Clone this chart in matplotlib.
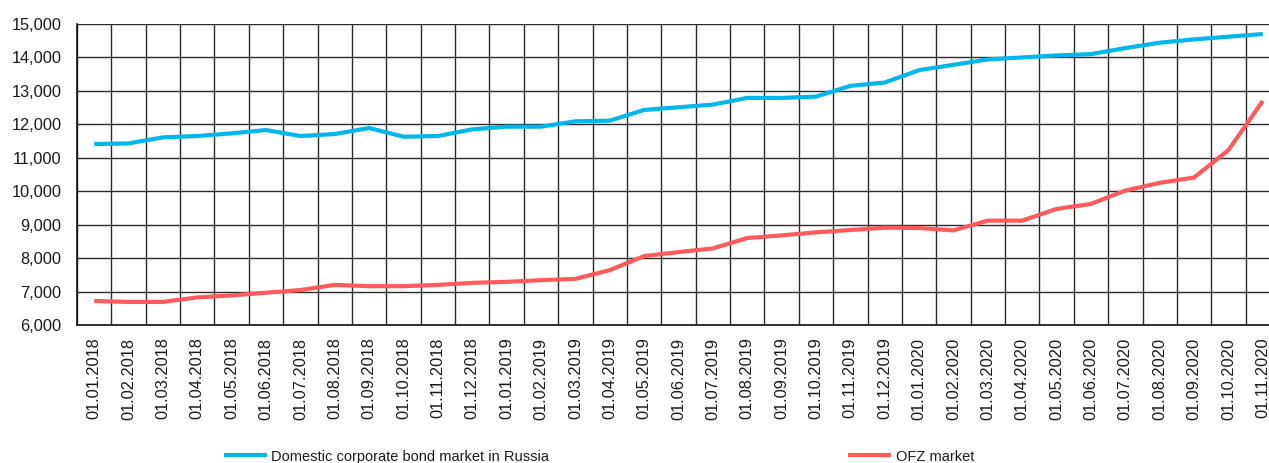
import matplotlib
matplotlib.use("Agg")
import matplotlib.pyplot as plt
from matplotlib.ticker import FuncFormatter

# Monthly observations, Jan 2018 - Nov 2020
dates = [f"01.{m:02d}.{y}" for y in (2018, 2019, 2020) for m in range(1, 13)][:35]

corporate = [11410, 11430, 11610, 11650, 11730, 11830, 11650, 11710, 11890, 11630,
             11650, 11850, 11930, 11930, 12090, 12110, 12430, 12510, 12590, 12790,
             12790, 12830, 13150, 13250, 13620, 13780, 13940, 14000, 14060, 14100,
             14280, 14440, 14540, 14620, 14700]

ofz = [6720, 6690, 6690, 6825, 6885, 6965, 7045, 7200, 7160, 7160,
       7200, 7260, 7290, 7340, 7380, 7640, 8060, 8180, 8290, 8600,
       8680, 8770, 8840, 8910, 8900, 8830, 9120, 9120, 9470, 9620,
       10020, 10250, 10410, 11230, 12700]

series_names = ["Domestic corporate bond market in Russia", "OFZ market"]
colors = ["#00B6EA", "#FF5A5C"]

plt.rcParams['font.family'] = ['Liberation Sans', 'DejaVu Sans']

fig = plt.figure(figsize=(12.69, 4.63), dpi=100)
ax = fig.add_axes([77 / 1269, 1 - 325 / 463, 1203 / 1269, 301 / 463])

x = list(range(len(dates)))
ax.plot(x, corporate, color=colors[0], lw=3, label=series_names[0], solid_capstyle='butt')
ax.plot(x, ofz, color=colors[1], lw=3, label=series_names[1], solid_capstyle='butt')

ax.set_xlim(-0.5, len(dates) - 0.5)
ax.set_ylim(6000, 15000)
ax.set_yticks(range(6000, 15001, 1000))
ax.yaxis.set_major_formatter(FuncFormatter(lambda v, p: f"{int(v):,}"))

ax.set_xticks(x)
ax.set_xticklabels(dates, rotation=90)
ax.set_xticks([i + 0.5 for i in range(-1, len(dates))], minor=True)

ax.grid(True, axis='y', which='major', color='#2a2a2a', lw=1.0)
ax.grid(True, axis='x', which='minor', color='#2a2a2a', lw=1.0)
ax.set_axisbelow(True)

for side in ('top', 'right'):
    ax.spines[side].set_visible(False)
for side in ('left', 'bottom'):
    ax.spines[side].set_color('#111111')
    ax.spines[side].set_linewidth(1.2)

ax.tick_params(axis='y', length=0, pad=11, labelsize=11.8, labelcolor='#1a1a1a')
ax.tick_params(axis='x', which='major', length=0, pad=9, labelsize=11.8, labelcolor='#1a1a1a')
ax.tick_params(axis='x', which='minor', length=0)

fig.legend(loc='center', bbox_to_anchor=(0.472, 0.014), ncol=2, frameon=False,
           fontsize=10.5, handlelength=2.95, handletextpad=0.3, columnspacing=20.5,
           labelcolor='#1a1a1a')

fig.savefig("out.png", dpi=100)
